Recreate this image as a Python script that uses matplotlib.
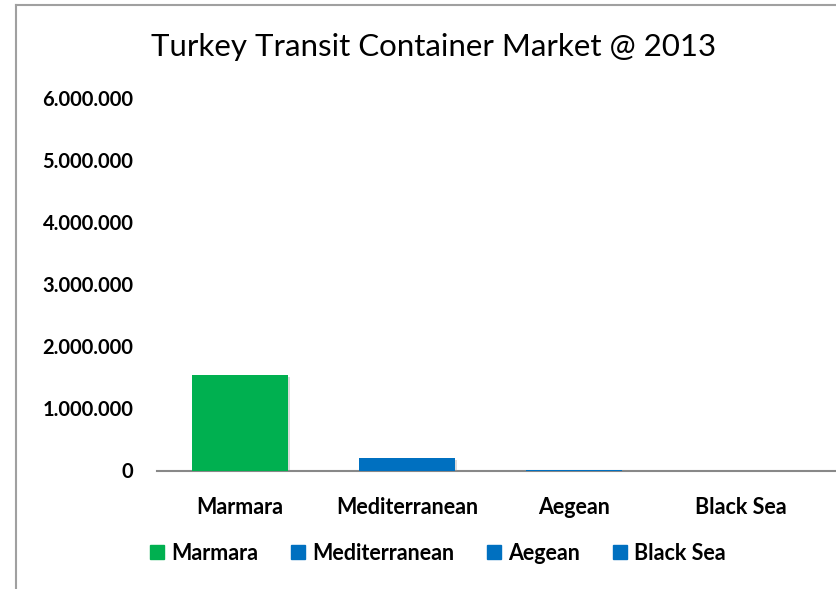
import matplotlib
matplotlib.use("Agg")
import matplotlib.pyplot as plt
from matplotlib.lines import Line2D
from matplotlib.ticker import FuncFormatter
import matplotlib.patheffects as pe

categories = ["Marmara", "Mediterranean", "Aegean", "Black Sea"]
values = [1535000, 200000, 8000, 0]
colors = ["#00B050", "#0070C0", "#0070C0", "#0070C0"]
yticks = [0, 1000000, 2000000, 3000000, 4000000, 5000000, 6000000]
title = "Turkey Transit Container Market @ 2013"

plt.rcParams['font.family'] = ['Lato', 'DejaVu Sans']

fig = plt.figure(figsize=(8.37, 5.89), dpi=100)
W, H = 837, 589
ax = fig.add_axes([157 / W, (H - 470.5) / H, (837 - 157) / W, (470.5 - 98) / H])

bars = ax.bar(range(len(categories)), values, width=0.57, color=colors, zorder=3)
for b in bars:
    b.set_path_effects([pe.SimplePatchShadow(offset=(1.5, -1.5), shadow_rgbFace="#999999", alpha=0.35), pe.Normal()])

ax.set_xlim(-0.497, 3.575)
ax.set_ylim(0, 6000000)
ax.set_yticks(yticks)
ax.yaxis.set_major_formatter(FuncFormatter(lambda v, p: "0" if v == 0 else f"{int(v):,}".replace(",", ".")))
ax.set_xticks(range(len(categories)))
ax.set_xticklabels(categories)
for s in ["top", "right", "left"]:
    ax.spines[s].set_visible(False)
ax.spines["bottom"].set_color("#888888")
ax.spines["bottom"].set_linewidth(1.5)
ax.tick_params(axis="both", length=0)
ax.tick_params(axis="y", pad=17, labelsize=14.5)
ax.tick_params(axis="x", pad=19, labelsize=15.5)
for lab in ax.get_yticklabels() + ax.get_xticklabels():
    lab.set_fontweight("bold")

fig.text(434 / W, (H - 47) / H, title, ha="center", va="center", fontsize=22.5)

handles = [plt.Rectangle((0, 0), 1, 1, color=c) for c in colors]
leg = fig.legend(handles, categories, loc="center", bbox_to_anchor=(438 / W, (H - 553) / H),
                 ncol=4, frameon=False, prop={"weight": "bold", "size": 15.5},
                 handlelength=0.65, handleheight=0.65, handletextpad=0.35, columnspacing=1.5)

fig.add_artist(Line2D([16 / W, 16 / W], [0, (H - 5) / H], color="#a0a0a0", lw=1.5))
fig.add_artist(Line2D([16 / W, 1], [(H - 5) / H, (H - 5) / H], color="#a0a0a0", lw=1.5))

fig.savefig("out.png", dpi=100)
